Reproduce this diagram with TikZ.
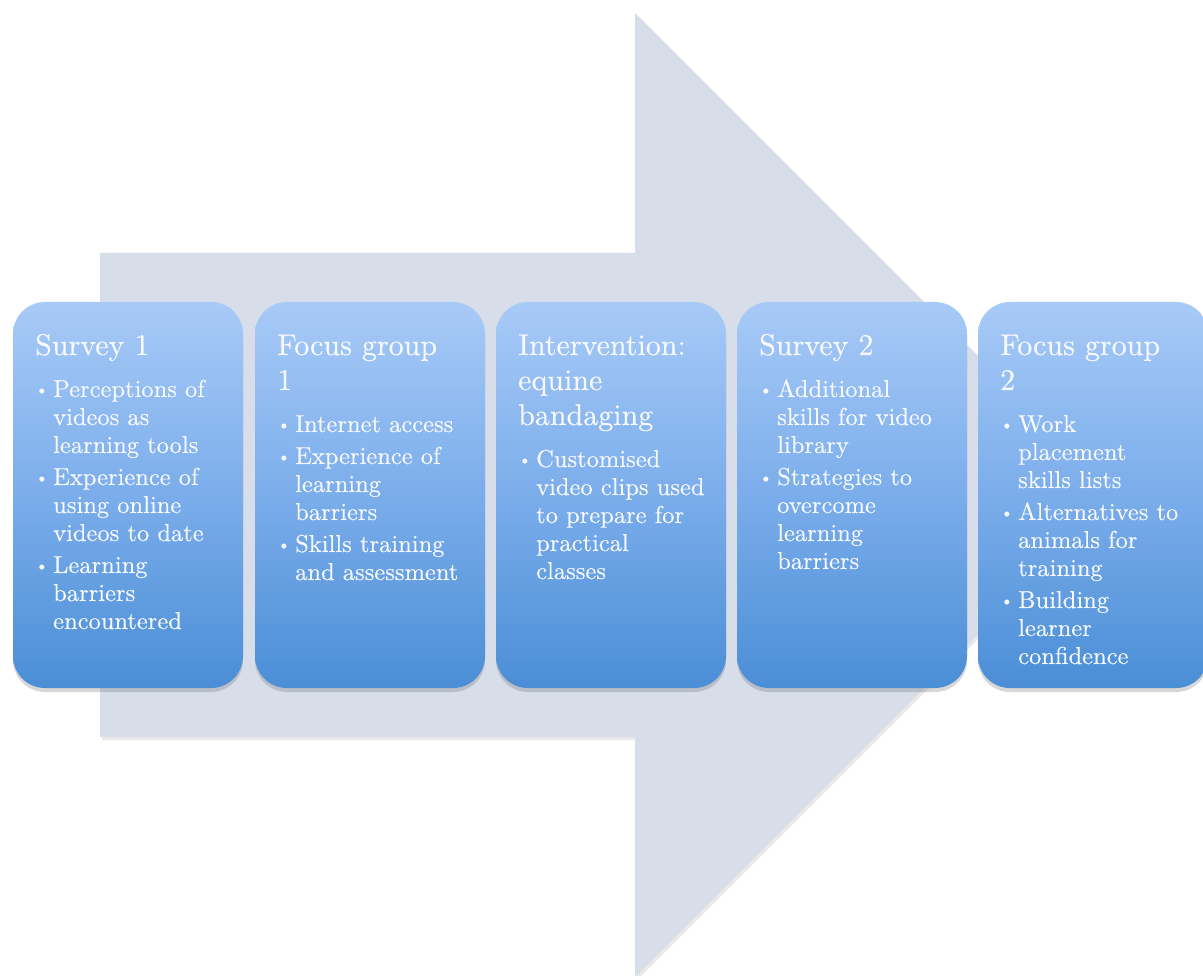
\documentclass[tikz,border=0pt]{standalone}
\usepackage{fontspec}
\newfontfamily\boxfont{lmroman10-regular.otf}[FakeBold=0.3]
\usetikzlibrary{shadows}
\definecolor{arrowfill}{HTML}{D7DEEA}
\definecolor{boxtop}{HTML}{A8CAF7}
\definecolor{boxmid}{HTML}{7BADEB}
\definecolor{boxbot}{HTML}{4A8ED6}
\definecolor{txtcol}{HTML}{F6F9FE}
\newcommand{\ttlfont}{\fontsize{30}{35}\selectfont}
\newcommand{\itmfont}{\fontsize{24.5}{28}\selectfont}
\newcommand{\itm}[1]{\par\vspace{4pt}{\leftskip=18pt\noindent\hspace*{-18pt}\makebox[18pt][l]{\raisebox{2pt}{\fontsize{17}{17}\selectfont\textbullet}}#1\par}}
\newcommand{\stagetext}[2]{\parbox[t]{215pt}{\boxfont\raggedright\ttlfont #1\par\vspace{10pt}\itmfont #2}}
\tikzset{
  stagebox/.style={rounded corners=32pt, minimum width=230pt, minimum height=386pt,
    inner sep=0pt, top color=boxtop, bottom color=boxbot, middle color=boxmid, draw=none,
    drop shadow={shadow xshift=0pt, shadow yshift=-4pt, opacity=.22, fill=black!70}},
  stagetxt/.style={inner sep=0pt, anchor=base west, text=txtcol},
  arrowbody/.style={fill=arrowfill, draw=none,
    drop shadow={shadow xshift=2pt, shadow yshift=-3pt, opacity=.12, fill=black!70}}
}
\begin{document}
\begin{tikzpicture}[x=1pt, y=-1pt]
\useasboundingbox (0,0) rectangle (1203,976);
\clip (0,0) rectangle (1203,976);
\fill[white] (0,0) rectangle (1203,976);
% big arrow
\path[arrowbody] (100,253) -- (635,253) -- (635,13) -- (1117,495) -- (635,977) -- (635,737) -- (100,737) -- cycle;
% stage boxes
\node[stagebox] (s1) at (128,495) {};
\node[stagebox] (s2) at (370,495) {};
\node[stagebox] (s3) at (611,495) {};
\node[stagebox] (s4) at (852,495) {};
\node[stagebox] (s5) at (1093,495) {};
% texts
\node[stagetxt] (t1) at (35,355) {\stagetext{Survey 1}{%
  \itm{Perceptions of\\videos as\\learning tools}%
  \itm{Experience of\\using online\\videos to date}%
  \itm{Learning\\barriers\\encountered}}};
\node[stagetxt] (t2) at (277,355) {\stagetext{Focus group\\1}{%
  \itm{Internet access}%
  \itm{Experience of\\learning\\barriers}%
  \itm{Skills training\\and assessment}}};
\node[stagetxt] (t3) at (518,355) {\stagetext{Intervention:\\equine\\bandaging}{%
  \itm{Customised\\video clips used\\to prepare for\\practical\\classes}}};
\node[stagetxt] (t4) at (759,355) {\stagetext{Survey 2}{%
  \itm{Additional\\skills for video\\library}%
  \itm{Strategies to\\overcome\\learning\\barriers}}};
\node[stagetxt] (t5) at (1000,355) {\stagetext{Focus group\\2}{%
  \itm{Work\\placement\\skills lists}%
  \itm{Alternatives to\\animals for\\training}%
  \itm{Building\\learner\\confidence}}};
\end{tikzpicture}
\end{document}
